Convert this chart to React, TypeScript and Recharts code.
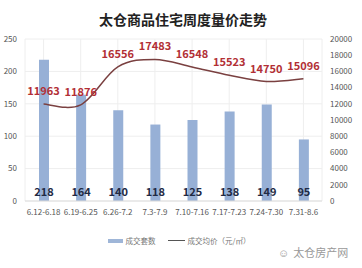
import React from "react";
import {
  ComposedChart,
  Bar,
  Line,
  XAxis,
  YAxis,
  CartesianGrid,
  LabelList,
  Legend,
} from "recharts";

const categories = ["6.12-6.18", "6.19-6.25", "6.26-7.2", "7.3-7.9", "7.10-7.16", "7.17-7.23", "7.24-7.30", "7.31-8.6"];
const volumes = [218, 164, 140, 118, 125, 138, 149, 95];
const prices = [11963, 11876, 16556, 17483, 16548, 15523, 14750, 15096];
const leftTicks = [0, 50, 100, 150, 200, 250];
const rightTicks = [0, 2000, 4000, 6000, 8000, 10000, 12000, 14000, 16000, 18000, 20000];

const data = categories.map((c, i) => ({ name: c, vol: volumes[i], price: prices[i] }));

const FONT = '"Noto Sans CJK SC", "Noto Sans", sans-serif';

// Excel-like smoothing (Catmull-Rom, tension 1/6)
function smoothCurve(context: any) {
  let pts: [number, number][] = [];
  return {
    areaStart() {},
    areaEnd() {},
    lineStart() {
      pts = [];
    },
    lineEnd() {
      const n = pts.length;
      if (n === 0) return;
      context.moveTo(pts[0][0], pts[0][1]);
      for (let i = 0; i < n - 1; i++) {
        const p0 = pts[Math.max(0, i - 1)];
        const p1 = pts[i];
        const p2 = pts[i + 1];
        const p3 = pts[Math.min(n - 1, i + 2)];
        const c1x = p1[0] + (p2[0] - p0[0]) / 6;
        const c1y = p1[1] + (p2[1] - p0[1]) / 6;
        const c2x = p2[0] - (p3[0] - p1[0]) / 6;
        const c2y = p2[1] - (p3[1] - p1[1]) / 6;
        context.bezierCurveTo(c1x, c1y, c2x, c2y, p2[0], p2[1]);
      }
    },
    point(x: number, y: number) {
      pts.push([+x, +y]);
    },
  };
}

const LegendContent = () => (
  <div style={{ display: "flex", justifyContent: "center", alignItems: "center", fontSize: 7.5, color: "#777", fontFamily: FONT }}>
    <span style={{ display: "inline-block", width: 15, height: 4, background: "#9fb6d8", marginRight: 3 }} />
    <span style={{ marginRight: 12 }}>成交套数</span>
    <span style={{ display: "inline-block", width: 17, height: 1, background: "#555", marginRight: 3 }} />
    <span>成交均价（元/㎡）</span>
  </div>
);

export default function App() {
  return (
    <div style={{ position: "absolute", top: 0, left: 0, width: 362, height: 268, background: "#fff", fontFamily: FONT }}>
      <div style={{ position: "absolute", top: 9, left: 0, width: 362, textAlign: "center", fontSize: 14, fontWeight: 700, color: "#222", paddingLeft: 2 }}>
        太仓商品住宅周度量价走势
      </div>
      <ComposedChart width={362} height={268} data={data} margin={{ top: 39, right: 0, left: 0, bottom: 36 }}>
        <CartesianGrid yAxisId="left" stroke="#eeeeee" vertical={true} horizontal={true} />
        <XAxis
          dataKey="name"
          tick={{ fontSize: 8, fill: "#555" }}
          tickLine={false}
          axisLine={{ stroke: "#ddd" }}
          interval={0}
          height={20}
        />
        <YAxis
          yAxisId="left"
          domain={[0, 250]}
          ticks={leftTicks}
          tick={{ fontSize: 8, fill: "#555" }}
          tickLine={false}
          axisLine={false}
          width={25}
        />
        <YAxis
          yAxisId="right"
          orientation="right"
          domain={[0, 20000]}
          ticks={rightTicks}
          tick={{ fontSize: 8, fill: "#555" }}
          tickLine={false}
          axisLine={false}
          width={40}
        />
        <Legend content={<LegendContent />} wrapperStyle={{ top: 235, left: 0, width: 358 }} />
        <Bar yAxisId="left" dataKey="vol" fill="#97b0d6" barSize={10} isAnimationActive={false}>
          <LabelList dataKey="vol" position="insideBottom" offset={5} fill="#1f2a44" fontSize={11} fontWeight={700} />
        </Bar>
        <Line
          yAxisId="right"
          dataKey="price"
          type={smoothCurve as any}
          stroke="#7a4040"
          strokeWidth={1.5}
          dot={false}
          isAnimationActive={false}
        >
          <LabelList dataKey="price" position="top" offset={9} fill="#b22f35" fontSize={11} fontWeight={700} />
        </Line>
      </ComposedChart>
      <div style={{ position: "absolute", left: 278, top: 244, fontSize: 11, color: "#999" }}>
        <span style={{ marginRight: 4 }}>☺</span>太仓房产网
      </div>
    </div>
  );
}
